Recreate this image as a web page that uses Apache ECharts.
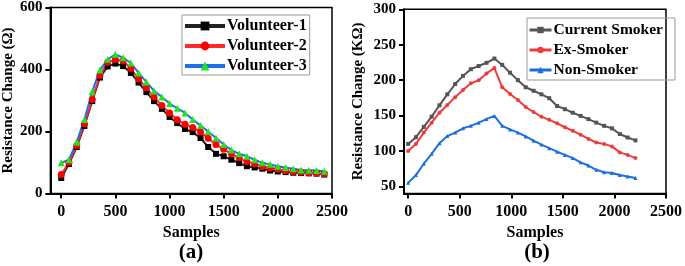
<!DOCTYPE html>
<html>
<head>
<meta charset="utf-8">
<script src="https://cdn.jsdelivr.net/npm/echarts@6/dist/echarts.min.js"></script>
<style>
    html, body { margin: 0; padding: 0; background: #fff; }
    #chart { width: 685px; height: 266px; }
</style>
</head>
<body>
<div id="chart"></div>
<script>
// (a) 三位志愿者
const samplesA = [0, 71, 143, 214, 286, 357, 429, 500, 571, 643, 714, 786, 857, 929, 1000, 1071, 1143, 1214, 1286, 1357,
    1429, 1500, 1571, 1643, 1714, 1786, 1857, 1929, 2000, 2071, 2143, 2214, 2286, 2357, 2429];
const volunteer1 = [50, 95, 150, 218, 298, 374, 410, 419, 411, 389, 358, 327, 298, 273, 247, 227, 208, 198, 179, 150,
    128, 120, 109, 98, 88, 84, 80, 74, 71, 69, 67, 66, 65, 64, 61];
const volunteer2 = [61, 100, 155, 225, 303, 381, 423, 432, 428, 403, 370, 341, 311, 284, 260, 238, 223, 213, 198, 178,
    158, 143, 128, 115, 103, 96, 87, 82, 78, 73, 71, 69, 67, 66, 64];
const volunteer3 = [99, 109, 166, 239, 329, 398, 433, 449, 438, 421, 389, 360, 331, 311, 290, 275, 260, 239, 219, 200,
    179, 158, 140, 128, 120, 109, 99, 94, 88, 84, 80, 76, 75, 74, 72];
const ticksAx = [0, 500, 1000, 1500, 2000, 2500];
const ticksAy = [0, 200, 400, 600];

// (b) 吸烟者
const samplesB = [0, 76, 152, 228, 304, 380, 456, 532, 608, 684, 760, 836, 912, 988, 1064, 1140, 1216, 1292, 1368, 1444,
    1520, 1596, 1672, 1748, 1824, 1900, 1976, 2052, 2128, 2204];
const currentSmoker = [110, 119.5, 134, 148.5, 164.5, 180, 194.5, 206, 215.5, 220, 224.5, 230.5, 221.5, 210.5, 200, 190, 185,
    180, 174.5, 163.5, 159, 154, 149.5, 145, 140, 135.5, 132, 124, 119, 115];
const exSmoker = [100, 110, 126, 140, 154, 165, 176, 186, 195.5, 200, 209.5, 217, 190, 180.5, 172, 162, 155,
    148.5, 144, 139, 133.5, 128.5, 123, 117, 112, 110, 106.5, 98, 94.5, 90];
const nonSmoker = [55, 66, 82, 96, 111, 121, 126, 132, 135.5, 140, 145, 149.5, 135.5, 130.5, 126, 120.5, 114.5,
    109, 104, 99, 94.5, 90, 84, 79.5, 73.5, 70, 69, 66, 64, 62];
const ticksBx = [0, 500, 1000, 1500, 2000, 2500];
const ticksBy = [50, 100, 150, 200, 250, 300];

const FONT = 'Liberation Serif';

function pairs(xs, ys) {
    return xs.map((x, i) => [x, ys[i]]);
}

function xAxisOf(gridIndex, min, ticks) {
    return {
        type: 'value', gridIndex: gridIndex, min: min, max: 2500,
        name: 'Samples', nameLocation: 'middle', nameGap: 28,
        nameTextStyle: { fontFamily: FONT, fontWeight: 'bold', fontSize: 16, color: '#000' },
        axisLine: { onZero: false, lineStyle: { color: '#000', width: 2 } },
        axisTick: { inside: false, length: 5, customValues: ticks, lineStyle: { color: '#000', width: 2 } },
        axisLabel: {
            customValues: ticks, margin: 10, formatter: (v) => String(v),
            fontFamily: FONT, fontWeight: 'bold', fontSize: 16, color: '#000'
        },
        splitLine: { show: false }
    };
}

function yAxisOf(gridIndex, min, max, ticks, name, gap) {
    return {
        type: 'value', gridIndex: gridIndex, min: min, max: max,
        name: name, nameLocation: 'middle', nameGap: gap,
        nameTextStyle: { fontFamily: FONT, fontWeight: 'bold', fontSize: 15, color: '#000' },
        axisLine: { show: true, onZero: false, lineStyle: { color: '#000', width: 2 } },
        axisTick: { show: true, length: 5, customValues: ticks, lineStyle: { color: '#000', width: 2 } },
        axisLabel: {
            customValues: ticks, margin: 8, formatter: (v) => String(v),
            fontFamily: FONT, fontWeight: 'bold', fontSize: 15, color: '#000'
        },
        splitLine: { show: false }
    };
}

function lineSeries(name, idx, xs, ys, symbol, size, lineColor, markColor) {
    return {
        name: name, type: 'line', xAxisIndex: idx, yAxisIndex: idx,
        data: pairs(xs, ys),
        symbol: symbol, symbolSize: size, showSymbol: true,
        lineStyle: { color: lineColor, width: 2 },
        itemStyle: { color: markColor },
        animation: false
    };
}

const legendText = { fontFamily: FONT, fontWeight: 'bold', color: '#000' };

const option = {
    animation: false,
    grid: [
        { left: 50, top: 7, width: 282, height: 186.5, show: true, borderColor: '#000', borderWidth: 1.5 },
        { left: 404, top: 9.3, width: 266, height: 184.2, show: true, borderColor: '#000', borderWidth: 1.5 }
    ],
    xAxis: [xAxisOf(0, -100, ticksAx), xAxisOf(1, -40, ticksBx)],
    yAxis: [
        yAxisOf(0, 0, 600, ticksAy, 'Resistance Change (Ω)', 34),
        yAxisOf(1, 40, 300, ticksBy, 'Resistance Change (KΩ)', 38)
    ],
    legend: [
        {
            data: ['Volunteer-1', 'Volunteer-2', 'Volunteer-3'],
            orient: 'vertical', left: 182, top: 15,
            itemWidth: 40, itemHeight: 11, itemGap: 4,
            padding: [3, 3, 1, 1],
            borderColor: '#999', borderWidth: 1,
            lineStyle: { width: 4 },
            textStyle: Object.assign({ fontSize: 16, padding: [0, 0, 0, -3] }, legendText)
        },
        {
            data: ['Current Smoker', 'Ex-Smoker', 'Non-Smoker'],
            orient: 'vertical', left: 527, top: 18,
            itemWidth: 22, itemHeight: 8, itemGap: 4,
            padding: [4, 12, 2, 1],
            borderColor: '#999', borderWidth: 1,
            lineStyle: { width: 3 },
            textStyle: Object.assign({ fontSize: 15.5, padding: [0, 0, 0, -3] }, legendText)
        }
    ],
    series: [
        lineSeries('Volunteer-1', 0, samplesA, volunteer1, 'rect', 6, '#222222', '#000000'),
        lineSeries('Volunteer-2', 0, samplesA, volunteer2, 'circle', 7, '#ff2a2a', '#ff0000'),
        lineSeries('Volunteer-3', 0, samplesA, volunteer3, 'triangle', 7, '#1f6fe6', '#1ee61e'),
        lineSeries('Current Smoker', 1, samplesB, currentSmoker, 'rect', 4, '#555555', '#555555'),
        lineSeries('Ex-Smoker', 1, samplesB, exSmoker, 'circle', 4, '#ee3b3b', '#ee3b3b'),
        lineSeries('Non-Smoker', 1, samplesB, nonSmoker, 'triangle', 4, '#1b6fdc', '#1b6fdc')
    ],
    graphic: [
        { type: 'text', x: 191, y: 253, style: { text: '(a)', align: 'center', verticalAlign: 'middle', font: 'bold 21px "Liberation Serif"', fill: '#000' } },
        { type: 'text', x: 537, y: 253, style: { text: '(b)', align: 'center', verticalAlign: 'middle', font: 'bold 21px "Liberation Serif"', fill: '#000' } }
    ]
};

const chart = echarts.init(document.getElementById('chart'), null, { renderer: 'canvas' });
chart.setOption(option);
</script>
</body>
</html>
